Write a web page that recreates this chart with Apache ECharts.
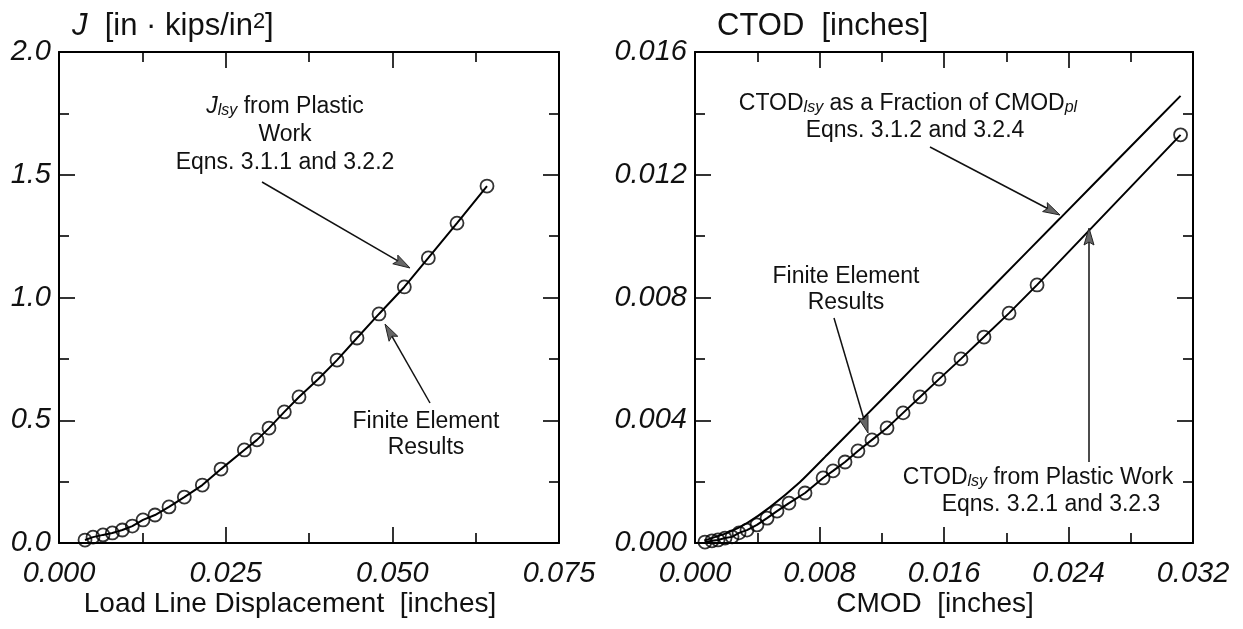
<!DOCTYPE html>
<html><head><meta charset="utf-8">
<script src="https://cdn.jsdelivr.net/npm/echarts@6/dist/echarts.min.js"></script>
<style>html,body{margin:0;padding:0;background:#fff}#c{width:1243px;height:629px}</style>
</head><body><div id="c"></div>
<script>
// ---- Left panel: J vs load line displacement ----
const lld = [0.0039, 0.0051, 0.0066, 0.0080, 0.0095, 0.0110, 0.0126, 0.0144, 0.0165, 0.0188, 0.0215, 0.0243, 0.0278, 0.0297, 0.0315, 0.0338, 0.0360, 0.0389, 0.0417, 0.0447, 0.0480, 0.0518, 0.0554, 0.0597, 0.0642];
const jFE = [0.012, 0.024, 0.033, 0.041, 0.053, 0.069, 0.094, 0.114, 0.147, 0.187, 0.236, 0.301, 0.379, 0.420, 0.468, 0.534, 0.595, 0.668, 0.745, 0.835, 0.933, 1.043, 1.161, 1.303, 1.454];
const lldRange = [0, 0.075, 0.025];   // min, max, label step
const jRange = [0, 2.0, 0.5];

// ---- Right panel: CTOD vs CMOD ----
const cmodFE = [0.00064, 0.00109, 0.00148, 0.00193, 0.00238, 0.00283, 0.00334, 0.00398, 0.00463, 0.00527, 0.00604, 0.00707, 0.00823, 0.00887, 0.00964, 0.01047, 0.01137, 0.01234, 0.01337, 0.01446, 0.01568, 0.01709, 0.01857, 0.02018, 0.02198, 0.0312];
const ctodFE = [0.00003, 0.00007, 0.00010, 0.00016, 0.00020, 0.00033, 0.00042, 0.00059, 0.00081, 0.00104, 0.00130, 0.00163, 0.00212, 0.00235, 0.00264, 0.00300, 0.00336, 0.00375, 0.00424, 0.00476, 0.00534, 0.00600, 0.00671, 0.00749, 0.00841, 0.0133];
const cmodFrac = [0.0006, 0.00206, 0.00334, 0.00482, 0.00675, 0.00848, 0.01080, 0.01317, 0.01491, 0.01915, 0.02346, 0.02776, 0.0312];
const ctodFrac = [0.00008, 0.00033, 0.00065, 0.00117, 0.00199, 0.00287, 0.00406, 0.00528, 0.00618, 0.00836, 0.01058, 0.01280, 0.01457];
const cmodRange = [0, 0.032, 0.008];
const ctodRange = [0, 0.016, 0.004];

const FONT = "'Liberation Sans', Arial, Helvetica, sans-serif";
const zip = (a, b) => a.map((v, i) => [v, b[i]]);

function axis(kind, grid, range, pos, showLabel, digits) {
  return {
    type: 'value', gridIndex: grid, position: pos,
    min: range[0], max: range[1], interval: range[2],
    axisLine: {show: true, onZero: false, lineStyle: {color: '#000', width: 2}},
    axisTick: {show: true, inside: true, length: 16, lineStyle: {color: '#000', width: 1.6}},
    minorTick: {show: true, splitNumber: 2, length: 10, lineStyle: {color: '#000', width: 1.6}},
    splitLine: {show: false}, minorSplitLine: {show: false},
    axisLabel: {show: showLabel, showMinLabel: true, showMaxLabel: true,
      margin: kind === 'x' ? 16 : 8, fontSize: 29, fontStyle: 'italic', color: '#111', fontFamily: FONT,
      formatter: v => v.toFixed(digits)}
  };
}

const RICH = {
  it: {font: `italic 23px ${FONT}`, fill: '#111'},
  sub: {font: `italic 16px ${FONT}`, fill: '#111', verticalAlign: 'bottom'},
  itL: {font: `italic 31px ${FONT}`, fill: '#111'},
  sup: {font: `22px ${FONT}`, fill: '#111', verticalAlign: 'top'}
};
function txt(x, y, text, size, align) {
  return {type: 'text', x: x, y: y, z: 20,
    style: {text: text, font: `${size}px ${FONT}`, fill: '#111', align: align || 'center', verticalAlign: 'middle', rich: RICH}};
}
function arrow(x1, y1, x2, y2) {
  const dx = x2 - x1, dy = y2 - y1, L = Math.hypot(dx, dy), ux = dx / L, uy = dy / L;
  const hl = 17, hw = 5;
  const bx = x2 - ux * hl, by = y2 - uy * hl;
  return [
    {type: 'line', z: 20, shape: {x1: x1, y1: y1, x2: bx + ux * 4, y2: by + uy * 4}, style: {stroke: '#111', lineWidth: 1.5}},
    {type: 'polygon', z: 21, shape: {points: [[x2, y2], [bx - uy * hw, by + ux * hw], [bx + ux * 3, by + uy * 3], [bx + uy * hw, by - ux * hw]]},
      style: {fill: '#666', stroke: '#222', lineWidth: 1}}
  ];
}

const lineStyle = {color: '#000', width: 2};
const circ = {color: 'rgba(0,0,0,0)', borderColor: '#000', borderWidth: 1.8};

const chart = echarts.init(document.getElementById('c'), null, {renderer: 'canvas'});
chart.setOption({
  backgroundColor: '#fff',
  animation: false,
  grid: [
    {left: 59, top: 52, width: 500, height: 491},
    {left: 695, top: 52, width: 498, height: 491}
  ],
  xAxis: [
    axis('x', 0, lldRange, 'bottom', true, 3),
    axis('x', 0, lldRange, 'top', false, 3),
    axis('x', 1, cmodRange, 'bottom', true, 3),
    axis('x', 1, cmodRange, 'top', false, 3)
  ],
  yAxis: [
    axis('y', 0, jRange, 'left', true, 1),
    axis('y', 0, jRange, 'right', false, 1),
    axis('y', 1, ctodRange, 'left', true, 3),
    axis('y', 1, ctodRange, 'right', false, 3)
  ],
  series: [
    {type: 'line', xAxisIndex: 0, yAxisIndex: 0, data: zip(lld, jFE), showSymbol: false, lineStyle: lineStyle, z: 3},
    {type: 'scatter', xAxisIndex: 0, yAxisIndex: 0, data: zip(lld, jFE), symbol: 'circle', symbolSize: 13, itemStyle: circ, z: 4},
    {type: 'line', xAxisIndex: 2, yAxisIndex: 2, data: zip(cmodFE, ctodFE), showSymbol: false, lineStyle: lineStyle, z: 3},
    {type: 'scatter', xAxisIndex: 2, yAxisIndex: 2, data: zip(cmodFE, ctodFE), symbol: 'circle', symbolSize: 13, itemStyle: circ, z: 4},
    {type: 'line', xAxisIndex: 2, yAxisIndex: 2, data: zip(cmodFrac, ctodFrac), showSymbol: false, smooth: 0.2, lineStyle: lineStyle, z: 3}
  ],
  graphic: [].concat(
    // axis titles
    [txt(72, 26, '{itL|J}  [in · kips/in{sup|2}]', 31, 'left'),
     txt(717, 26, 'CTOD  [inches]', 31, 'left'),
     txt(290, 604, 'Load Line Displacement  [inches]', 28),
     txt(935, 604, 'CMOD  [inches]', 28)],
    // left annotations
    [txt(285, 107, '{it|J}{sub|lsy} from Plastic', 23),
     txt(285, 135, 'Work', 23),
     txt(285, 163, 'Eqns. 3.1.1 and 3.2.2', 23),
     txt(426, 422, 'Finite Element', 23),
     txt(426, 448, 'Results', 23)],
    arrow(262, 182, 410, 268),
    arrow(430, 403, 385, 324),
    // right annotations
    [txt(908, 104, 'CTOD{sub|lsy} as a Fraction of CMOD{sub|pl}', 23),
     txt(915, 131, 'Eqns. 3.1.2 and 3.2.4', 23),
     txt(846, 277, 'Finite Element', 23),
     txt(846, 303, 'Results', 23),
     txt(1038, 478, 'CTOD{sub|lsy} from Plastic Work', 23),
     txt(1051, 505, 'Eqns. 3.2.1 and 3.2.3', 23)],
    arrow(930, 147, 1060, 215),
    arrow(834, 318, 868, 433),
    arrow(1089, 462, 1089, 228)
  )
});
</script>
</body></html>
